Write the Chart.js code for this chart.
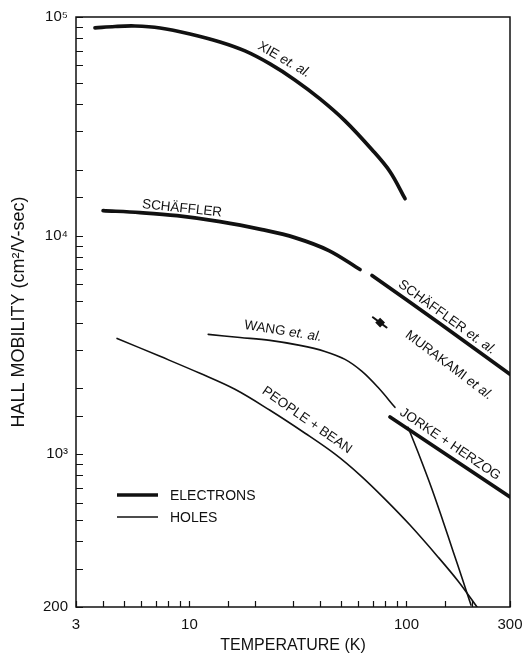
<!DOCTYPE html>
<html>
<head>
<meta charset="utf-8">
<script src="https://cdn.jsdelivr.net/npm/chart.js@4/dist/chart.umd.min.js"></script>
<style>
  html, body { margin: 0; padding: 0; background: #fff; }
  #wrap { width: 524px; height: 659px; position: relative; }
</style>
</head>
<body>
<div id="wrap"><canvas id="chart"></canvas></div>
<script>
// --- data (temperature in K, mobility in cm2/V-sec) ---

// electrons
const xieT  = [3.67, 4.54, 5.61, 7.32, 10.06, 13.83, 18.02, 23.5, 30.6, 39.96, 52.1, 69.4, 84.0, 98.5];
const xieMu = [89100, 90500, 90980, 89100, 83640, 76890, 69960, 61010, 51550, 42230, 33500, 24700, 19600, 14750];

const schT  = [4.0, 5.92, 8.76, 13.83, 21.6, 30.6, 43.9, 61.1];
const schMu = [13010, 12740, 12340, 11590, 10650, 9790, 8540, 6995];

const schEtAlT  = [69.4, 144, 300];
const schEtAlMu = [6570, 3930, 2320];

const jorkeT  = [84, 300];
const jorkeMu = [1480, 637];

const murakamiT  = [70, 75.6, 81];
const murakamiMu = [4230, 4000, 3800];

// holes (null = break in the curve under the JORKE label)
const wangT  = [12.2, 17.1, 23.5, 32.3, 42.1, 52.1, 62.4, 73.9, 88.5, 95, 101.7, 115.4, 131.1, 147.4, 163.8, 180.2, 198.3];
const wangMu = [3532, 3420, 3316, 3146, 2953, 2716, 2393, 2023, 1639, null, 1328, 969, 692, 494, 361, 272, 204];

const peopleT  = [4.64, 7.32, 11.18, 16.2, 23.5, 34.1, 46.9, 61.1, 79.6, 103.8, 139.7, 172.8, 211.4];
const peopleMu = [3386, 2803, 2344, 1981, 1588, 1247, 1000, 802, 623, 474, 339, 263, 200];

// tick labels
const xTickValues = [3, 10, 100, 300];
const xTickText   = ['3', '10', '100', '300'];
const yTickValues = [200, 1000, 10000, 100000];
const yTickText   = ['200', '10³', '10⁴', '10⁵'];

// curve annotations
const labelMain  = ['XIE', 'SCHÄFFLER', 'SCHÄFFLER', 'MURAKAMI', 'WANG', 'PEOPLE + BEAN', 'JORKE + HERZOG'];
const labelTail  = [' et. al.', '', ' et. al.', ' et al.', ' et. al.', '', ''];
const labelT     = [27.3, 9.24, 153.8, 157, 27, 34.8, 159];
const labelMu    = [63700, 13300, 4230, 2550, 3650, 1430, 1110];
const labelAngle = [30, 6, 36, 37, 9, 35, 34];

// --- styles ---
const INK = '#111';
const FONT = '"Liberation Sans", Arial, Helvetica, sans-serif';
const THICK = 3.7;
const THIN = 1.6;

Chart.defaults.font.family = FONT;
Chart.defaults.color = INK;

function pts(xs, ys) {
  return xs.map((t, i) => ({ x: t, y: ys[i] }));
}

function curve(label, xs, ys, width) {
  return {
    label: label,
    data: pts(xs, ys),
    showLine: true,
    borderColor: INK,
    backgroundColor: INK,
    borderWidth: width,
    pointRadius: 0,
    tension: 0.35,
    borderCapStyle: 'round',
    borderJoinStyle: 'round',
    spanGaps: false
  };
}

function tickText(values, texts) {
  return function (v) {
    const i = values.findIndex(t => Math.abs(t - v) < 1e-6 * t);
    return i >= 0 ? texts[i] : '';
  };
}

const murakami = curve('MURAKAMI et al.', murakamiT, murakamiMu, 2);
murakami.pointRadius = ctx => (ctx.dataIndex === 1 ? 3.5 : 0);
murakami.pointStyle = 'rectRot';
murakami.tension = 0;

// frame, inward ticks, curve names and legend
const overlay = {
  id: 'overlay',
  afterDraw(chart) {
    const { ctx, chartArea: a, scales: { x, y } } = chart;
    ctx.save();
    ctx.strokeStyle = INK;
    ctx.fillStyle = INK;

    ctx.lineWidth = 1.5;
    ctx.strokeRect(a.left, a.top, a.right - a.left, a.bottom - a.top);

    ctx.lineWidth = 1.2;
    ctx.beginPath();
    x.ticks.forEach(t => {
      const px = Math.round(x.getPixelForValue(t.value)) + 0.5;
      ctx.moveTo(px, a.bottom);
      ctx.lineTo(px, a.bottom - 6);
    });
    y.ticks.forEach(t => {
      const py = Math.round(y.getPixelForValue(t.value)) + 0.5;
      ctx.moveTo(a.left, py);
      ctx.lineTo(a.left + 7, py);
    });
    ctx.stroke();

    // labels along the curves
    const upright = '13.5px ' + FONT;
    const slanted = 'italic 13.5px ' + FONT;
    ctx.textBaseline = 'middle';
    ctx.textAlign = 'left';
    labelMain.forEach((main, i) => {
      const px = x.getPixelForValue(labelT[i]);
      const py = y.getPixelForValue(labelMu[i]);
      ctx.font = upright;
      const w1 = ctx.measureText(main).width;
      ctx.font = slanted;
      const w2 = labelTail[i] ? ctx.measureText(labelTail[i]).width : 0;
      ctx.save();
      ctx.translate(px, py);
      ctx.rotate(labelAngle[i] * Math.PI / 180);
      ctx.font = upright;
      ctx.fillText(main, -(w1 + w2) / 2, 0);
      if (labelTail[i]) {
        ctx.font = slanted;
        ctx.fillText(labelTail[i], -(w1 + w2) / 2 + w1, 0);
      }
      ctx.restore();
    });

    // legend inside the plot
    const rows = [['ELECTRONS', THICK], ['HOLES', THIN]];
    ctx.font = '14px ' + FONT;
    rows.forEach((r, i) => {
      const ly = a.top + 478 + i * 22;
      ctx.lineWidth = r[1];
      ctx.beginPath();
      ctx.moveTo(a.left + 41, ly);
      ctx.lineTo(a.left + 82, ly);
      ctx.stroke();
      ctx.fillText(r[0], a.left + 94, ly + 1);
    });
    ctx.restore();
  }
};

new Chart(document.getElementById('chart'), {
  type: 'scatter',
  data: {
    datasets: [
      curve('XIE et. al.', xieT, xieMu, THICK),
      curve('SCHÄFFLER', schT, schMu, THICK),
      curve('SCHÄFFLER et. al.', schEtAlT, schEtAlMu, THICK),
      curve('JORKE + HERZOG', jorkeT, jorkeMu, THICK),
      murakami,
      curve('WANG et. al.', wangT, wangMu, THIN),
      curve('PEOPLE + BEAN', peopleT, peopleMu, THIN)
    ]
  },
  options: {
    responsive: true,
    maintainAspectRatio: false,
    animation: false,
    devicePixelRatio: 1,
    layout: { padding: { top: 17, right: 14, bottom: 0, left: 0 } },
    plugins: {
      legend: { display: false },
      tooltip: { enabled: false }
    },
    scales: {
      x: {
        type: 'logarithmic',
        min: 3,
        max: 300,
        grid: { display: false, drawTicks: false },
        border: { display: false },
        ticks: {
          autoSkip: false,
          maxRotation: 0,
          padding: 9,
          font: { size: 15 },
          color: INK,
          callback: tickText(xTickValues, xTickText)
        },
        title: {
          display: true,
          text: 'TEMPERATURE (K)',
          font: { size: 16 },
          color: INK,
          padding: { top: 0, bottom: 4 }
        },
        afterFit: s => { s.height = 52; s.paddingLeft = 0; s.paddingRight = 0; }
      },
      y: {
        type: 'logarithmic',
        min: 200,
        max: 100000,
        grid: { display: false, drawTicks: false },
        border: { display: false },
        ticks: {
          autoSkip: false,
          padding: 8,
          font: { size: 15 },
          color: INK,
          callback: tickText(yTickValues, yTickText)
        },
        title: {
          display: true,
          text: 'HALL MOBILITY (cm²/V-sec)',
          font: { size: 18 },
          color: INK,
          padding: { top: 8, bottom: 0 }
        },
        afterFit: s => { s.width = 76; s.paddingTop = 0; s.paddingBottom = 0; }
      }
    }
  },
  plugins: [overlay]
});
</script>
</body>
</html>
